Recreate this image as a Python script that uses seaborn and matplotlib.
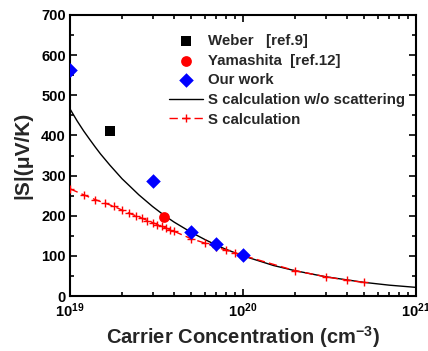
import numpy as np
import pandas as pd
import matplotlib
matplotlib.use("Agg")
import matplotlib.pyplot as plt
import seaborn as sns
from matplotlib.ticker import FixedLocator, FixedFormatter, LogLocator, MultipleLocator, NullFormatter

# ---- data ----
weber_n = [1.7e19]
weber_s = [410]
yama_n = [3.5e19]
yama_s = [197]
ours_n = [1e19, 3e19, 5e19, 7e19, 1e20]
ours_s = [562, 287, 160, 130, 102]

calc0_n = [1e19, 1.1e19, 1.2e19, 1.3e19, 1.4e19, 1.5e19, 1.7e19, 2e19, 2.2e19,
           2.5e19, 3e19, 3.5e19, 4e19, 5e19, 6e19, 7e19, 8e19, 1e20,
           1.5e20, 2e20, 3e20, 5e20, 7e20, 1e21]
calc0_s = [466, 436, 411, 390, 371, 354, 326, 292, 275,
           252, 223, 201, 184, 159, 141, 127, 116, 100,
           76, 63, 48, 34, 27, 21.5]

calc_n = [1e19, 1.2e19, 1.4e19, 1.6e19, 1.8e19, 2.0e19, 2.2e19, 2.4e19, 2.6e19,
          2.8e19, 3.0e19, 3.2e19, 3.4e19, 3.6e19, 3.8e19, 4.0e19, 5e19, 6e19,
          7e19, 8e19, 9e19, 1e20, 2e20, 3e20, 4e20, 5e20]
calc_s = [267, 252, 240, 231, 223, 214, 206, 200, 194,
          188, 183, 178, 174, 169, 165, 161, 143, 132,
          122, 114, 107, 101, 63, 48, 39, 34]

xtick_vals = [1e19, 1e20, 1e21]
xtick_labels = [r"$\mathbf{10^{19}}$", r"$\mathbf{10^{20}}$", r"$\mathbf{10^{21}}$"]

sns.set_theme(style="ticks")
plt.rcParams["font.family"] = ["Liberation Sans", "DejaVu Sans"]
plt.rcParams["font.weight"] = "bold"
plt.rcParams["mathtext.fontset"] = "custom"
plt.rcParams["mathtext.rm"] = "Liberation Sans:bold"
plt.rcParams["mathtext.bf"] = "Liberation Sans:bold"
plt.rcParams["mathtext.it"] = "Liberation Sans:bold"

fig = plt.figure(figsize=(4.28, 3.51), dpi=100)
ax = fig.add_axes([70/428, 55/351, 346/428, 281/351])

sns.lineplot(x=calc0_n, y=calc0_s, ax=ax, color="black", linewidth=1.0,
             label="S calculation w/o scattering", zorder=2, sort=False)
sns.lineplot(x=calc_n, y=calc_s, ax=ax, color="red", linewidth=1.0,
             linestyle=(0, (6, 3)), marker="+", markersize=6, markeredgewidth=1.0,
             markeredgecolor="red", label="S calculation", zorder=3, sort=False)
sns.scatterplot(x=weber_n, y=weber_s, ax=ax, color="black", marker="s", s=55,
                edgecolor="black", linewidth=0, label="Weber   [ref.9]", zorder=4)
sns.scatterplot(x=yama_n, y=yama_s, ax=ax, color="red", marker="o", s=60,
                edgecolor="red", linewidth=0, label="Yamashita  [ref.12]", zorder=4)
sns.scatterplot(x=ours_n, y=ours_s, ax=ax, color="blue", marker="D", s=55,
                edgecolor="blue", linewidth=0, label="Our work", zorder=5)

ax.set_xscale("log")
ax.set_xlim(1e19, 1e21)
ax.set_ylim(0, 700)
ax.xaxis.set_major_locator(FixedLocator(xtick_vals))
ax.xaxis.set_major_formatter(FixedFormatter(xtick_labels))
ax.xaxis.set_minor_locator(LogLocator(base=10, subs=np.arange(2, 10)))
ax.xaxis.set_minor_formatter(NullFormatter())
ax.yaxis.set_major_locator(MultipleLocator(100))
ax.yaxis.set_minor_locator(MultipleLocator(50))

ax.tick_params(which="both", direction="in", top=True, right=True, width=1.2,
               colors="black", labelsize=10.5)
ax.tick_params(which="major", length=5, pad=3)
ax.tick_params(which="minor", length=3)
ax.tick_params(axis="x", which="major", pad=4)
for lab in ax.get_yticklabels() + ax.get_xticklabels():
    lab.set_fontweight("bold")
for sp in ax.spines.values():
    sp.set_linewidth(1.5)
    sp.set_color("black")
    sp.set_visible(True)

ax.set_xlabel(r"Carrier Concentration (cm$^{\mathbf{-3}}$)", fontsize=14.5,
              fontweight="bold", labelpad=3)
ax.set_ylabel("|S|(μV/K)", fontsize=15, fontweight="bold", labelpad=6)

h, l = ax.get_legend_handles_labels()
order = ["Weber   [ref.9]", "Yamashita  [ref.12]", "Our work",
         "S calculation w/o scattering", "S calculation"]
hd = dict(zip(l, h))
leg = ax.legend([hd[k] for k in order], order, loc="upper right",
                bbox_to_anchor=(1.0, 0.97), frameon=False, fontsize=10.8,
                handlelength=2.3, handletextpad=0.35, labelspacing=0.38,
                borderaxespad=0.3)
for t in leg.get_texts():
    t.set_fontweight("bold")

fig.savefig("out.png", dpi=100)
